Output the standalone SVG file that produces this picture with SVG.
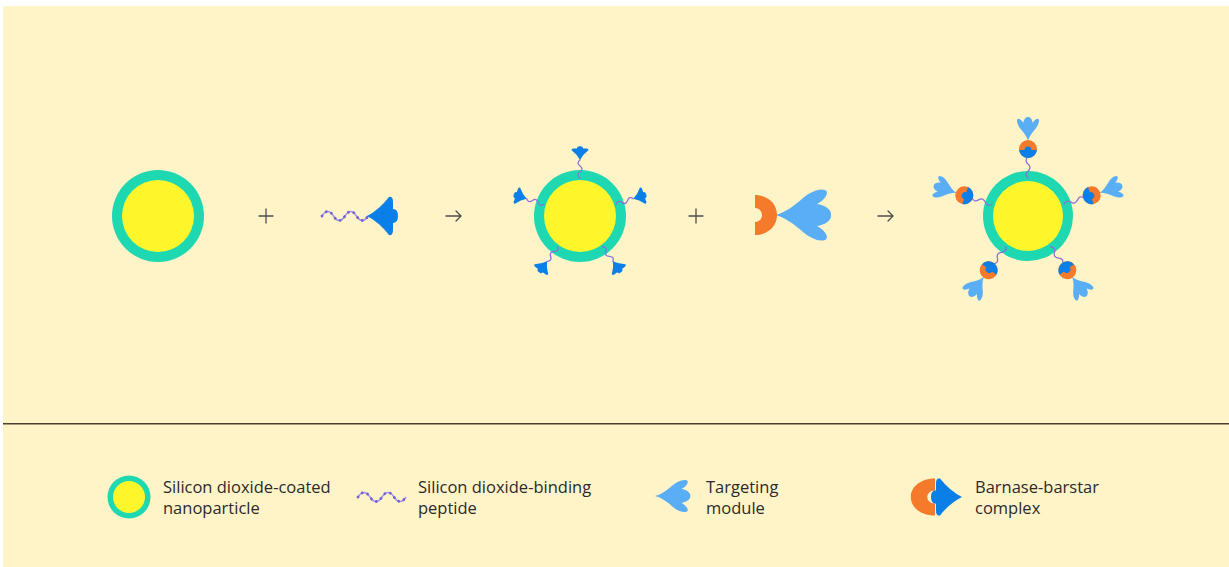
<svg xmlns="http://www.w3.org/2000/svg" width="1229" height="567" viewBox="0 0 1229 567">
  <style>
    .bg { fill: #fff3c8; }
    .shell { fill: #1ed8b2; }
    .core { fill: #fff52b; }
    .barstar { fill: #0b7fe8; }
    .barnase { fill: #f57a2c; }
    .target { fill: #5aaef6; }
    .wave { fill: none; stroke: #a294ec; stroke-width: 1.5; }
    .beads { fill: none; stroke: #7462d4; stroke-width: 2.8; stroke-linecap: round; stroke-dasharray: 0.1 5.75; }
    .link { fill: none; stroke: #8a72d8; stroke-width: 1.3; stroke-linecap: round; }
    .op { fill: none; stroke: #4d4d4d; stroke-width: 1.3; stroke-linecap: round; stroke-linejoin: round; }
    .label { font-family: "Open Sans", "Noto Sans", sans-serif; font-size: 16.5px; fill: #2b2b2b; }
  </style>
  <defs>
    <!-- barstar: apex at origin, body toward +x, bump on the far side -->
    <path id="barstarShape" d="M0,0 Q12,-6 22,-19 Q26,-20 26,-14 L26,-7 Q31,-7 31,0 Q31,7 26,7 L26,14 Q26,20 22,19 Q12,6 0,0 Z"/>
    <!-- targeting module: narrow neck at origin, three lobes toward +x -->
    <path id="targetShape" d="M0,0 C10,-2 20,-10 28,-17 C35,-23 44,-27 50,-25 C55,-23 50,-15 42,-11 C50,-10 57,-5 56,0 C57,5 50,10 42,11 C50,15 55,23 50,25 C44,27 35,23 28,17 C20,10 10,2 0,0 Z"/>
    <!-- barnase: flat side at x=0 with a notch, rounded toward +x -->
    <path id="barnaseShape" d="M0,-20 C12,-20 22,-12 22,0 C22,12 12,20 0,20 L0,7 C5,7 7,3 7,0 C7,-3 5,-7 0,-7 Z"/>
    <!-- short peptide linker, radial along +x -->
    <path id="linker" d="M38,0 q3,-4 6,0 t6,0 t6,0"/>
    <path id="linkerLong" d="M38,0 q3.5,-4 7,0 t7,0 t7,0"/>
    <!-- barnase-barstar complex: orange outer half, blue inner half -->
    <g id="complex">
      <circle r="9" class="barnase"/>
      <path class="barstar" d="M-1,-8.94 A9 9 0 0 0 -1,8.94 L-1,3.5 Q2.5,3.5 2.5,0 Q2.5,-3.5 -1,-3.5 Z"/>
    </g>
    <g id="decoratedArm">
      <use href="#linker" class="link"/>
      <use href="#barstarShape" class="barstar" transform="translate(56,0) scale(0.44)"/>
    </g>
    <g id="complexArm">
      <use href="#linkerLong" class="link"/>
      <use href="#targetShape" class="target" transform="translate(75,0) scale(0.43)"/>
      <use href="#complex" transform="translate(67,0)"/>
    </g>
  </defs>

  <rect class="bg" x="3" y="6" width="1226" height="561"/>
  <line x1="3" y1="423.8" x2="1229" y2="423.8" stroke="#4b4130" stroke-width="1.4"/>

  <!-- bare nanoparticle -->
  <g id="particle-bare">
    <circle class="shell" cx="158" cy="216" r="46"/>
    <circle class="core" cx="158" cy="216" r="36"/>
  </g>

  <!-- peptide fused to barstar -->
  <g id="peptide-barstar">
    <path class="wave" d="M322,216 q5.75,-9 11.5,0 t11.5,0 t11.5,0 t11.5,0"/>
    <path class="beads" d="M322,216 q5.75,-9 11.5,0 t11.5,0 t11.5,0 t11.5,0"/>
    <use href="#barstarShape" class="barstar" transform="translate(367,216)"/>
  </g>

  <!-- nanoparticle coated with peptide-barstar -->
  <g id="particle-barstar">
    <circle class="shell" cx="580" cy="216" r="46"/>
    <circle class="core" cx="580" cy="216" r="36"/>
    <use href="#decoratedArm" transform="translate(580,216) rotate(-90)"/>
    <use href="#decoratedArm" transform="translate(580,216) rotate(-162)"/>
    <use href="#decoratedArm" transform="translate(580,216) rotate(-18)"/>
    <use href="#decoratedArm" transform="translate(580,216) rotate(126)"/>
    <use href="#decoratedArm" transform="translate(580,216) rotate(54)"/>
  </g>

  <!-- barnase fused to targeting module -->
  <g id="barnase-target">
    <use href="#targetShape" class="target" transform="translate(775,215)"/>
    <use href="#barnaseShape" class="barnase" transform="translate(755,215)"/>
  </g>

  <!-- assembled targeted nanoparticle -->
  <g id="particle-targeted">
    <circle class="shell" cx="1028" cy="216" r="45"/>
    <circle class="core" cx="1028" cy="216" r="35"/>
    <use href="#complexArm" transform="translate(1028,216) rotate(-90)"/>
    <use href="#complexArm" transform="translate(1028,216) rotate(-162)"/>
    <use href="#complexArm" transform="translate(1028,216) rotate(-18)"/>
    <use href="#complexArm" transform="translate(1028,216) rotate(126)"/>
    <use href="#complexArm" transform="translate(1028,216) rotate(54)"/>
  </g>

  <!-- operators -->
  <g id="connectors">
    <path class="op" d="M259,216 H273 M266,209 V223"/>
    <path class="op" d="M446,216 H461 M456,211 L461,216 L456,221"/>
    <path class="op" d="M689,216 H703 M696,209 V223"/>
    <path class="op" d="M878,216 H893 M888,211 L893,216 L888,221"/>
  </g>

  <!-- legend -->
  <g id="legend-particle">
    <circle class="shell" cx="129" cy="497" r="21.5"/>
    <circle class="core" cx="129" cy="497" r="16"/>
    <text class="label" x="163" y="493">Silicon dioxide-coated</text>
    <text class="label" x="163" y="514">nanoparticle</text>
  </g>
  <g id="legend-peptide">
    <path class="wave" d="M358,497 q6,-9 12,0 t12,0 t12,0 t12,0"/>
    <path class="beads" d="M358,497 q6,-9 12,0 t12,0 t12,0 t12,0"/>
    <text class="label" x="418" y="493">Silicon dioxide-binding</text>
    <text class="label" x="418" y="514">peptide</text>
  </g>
  <g id="legend-target">
    <use href="#targetShape" class="target" transform="translate(655,496) scale(0.63)"/>
    <text class="label" x="706" y="493">Targeting</text>
    <text class="label" x="706" y="514">module</text>
  </g>
  <g id="legend-complex">
    <use href="#barnaseShape" class="barnase" transform="translate(935,497) scale(-1.1,0.93)"/>
    <use href="#barstarShape" class="barstar" transform="translate(962,497) scale(-1,0.97)"/>
    <text class="label" x="975" y="493">Barnase-barstar</text>
    <text class="label" x="975" y="514">complex</text>
  </g>
</svg>
